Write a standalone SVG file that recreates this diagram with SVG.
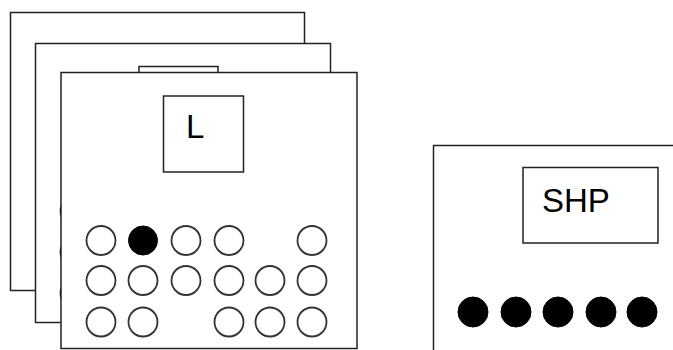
<svg xmlns="http://www.w3.org/2000/svg" width="673" height="350" viewBox="0 0 673 350">
<defs>
<style>
.panel{fill:#fff;stroke:#222;stroke-width:1.5}
.box{fill:#fff;stroke:#222;stroke-width:1.5}
.hole{fill:#fff;stroke:#333;stroke-width:1.8}
.dot{fill:#000;stroke:#000;stroke-width:1}
.lbl{font-family:"Liberation Sans",Arial,sans-serif;font-size:33px;fill:#000}
</style>
</defs>
<rect width="673" height="350" fill="#fff"/>
<g id="panel-back">
<rect class="panel" x="10.5" y="12.5" width="294" height="278"/>
</g>
<g id="panel-middle">
<rect class="panel" x="35.5" y="43.5" width="295" height="279"/>
<rect class="box" x="139" y="66.5" width="79" height="60"/>
<circle class="hole" cx="75" cy="211" r="14.5"/>
<circle class="hole" cx="75" cy="252" r="14.5"/>
<circle class="hole" cx="75" cy="293" r="14.5"/>
</g>
<g id="panel-front">
<rect class="panel" x="61" y="72.5" width="296" height="276"/>
<rect class="box" x="163.5" y="96" width="80" height="76"/>
<text class="lbl" x="186" y="138">L</text>
<circle class="hole" cx="101" cy="240.5" r="14.5"/>
<circle class="dot" cx="143" cy="240.5" r="14.5"/>
<circle class="hole" cx="186" cy="240.5" r="14.5"/>
<circle class="hole" cx="229" cy="240.5" r="14.5"/>
<circle class="hole" cx="312" cy="240.5" r="14.5"/>
<circle class="hole" cx="101" cy="280.5" r="14.5"/>
<circle class="hole" cx="143" cy="280.5" r="14.5"/>
<circle class="hole" cx="186" cy="280.5" r="14.5"/>
<circle class="hole" cx="229" cy="280.5" r="14.5"/>
<circle class="hole" cx="270" cy="280.5" r="14.5"/>
<circle class="hole" cx="312" cy="280.5" r="14.5"/>
<circle class="hole" cx="101" cy="322" r="14.5"/>
<circle class="hole" cx="143" cy="322" r="14.5"/>
<circle class="hole" cx="229" cy="322" r="14.5"/>
<circle class="hole" cx="270" cy="322" r="14.5"/>
<circle class="hole" cx="312" cy="322" r="14.5"/>
</g>
<g id="panel-shp">
<rect class="panel" x="433.5" y="145.5" width="260" height="230"/>
<rect class="box" x="523" y="167.5" width="135" height="75.5"/>
<text class="lbl" x="542" y="212">SHP</text>
<circle class="dot" cx="473" cy="312" r="15"/>
<circle class="dot" cx="516" cy="312" r="15"/>
<circle class="dot" cx="558" cy="312" r="15"/>
<circle class="dot" cx="601" cy="312" r="15"/>
<circle class="dot" cx="642" cy="312" r="15"/>
</g>
<g id="connectors"/>
</svg>
